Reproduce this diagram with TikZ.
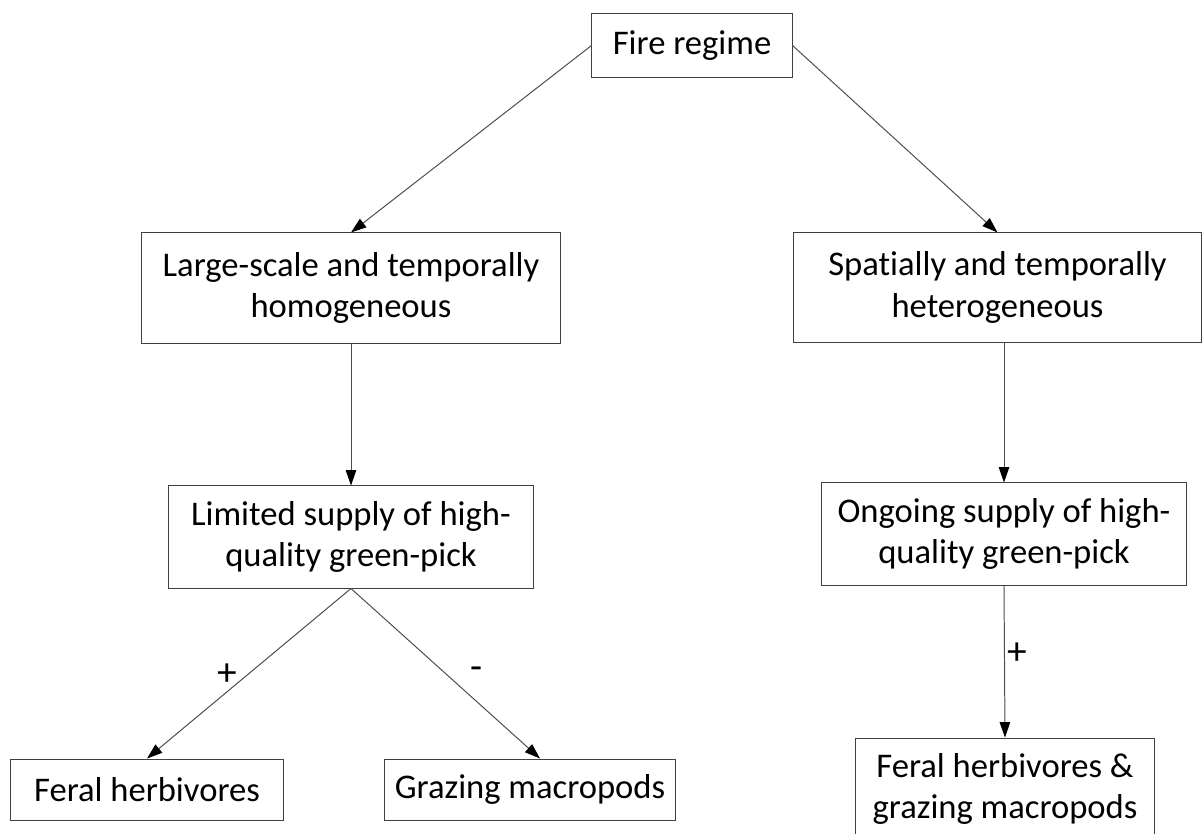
\documentclass[tikz,border=0pt]{standalone}
\usepackage{fontspec}
\setmainfont{Carlito}[Ligatures=CommonOff]
\usetikzlibrary{arrows.meta, positioning}

\begin{document}
\begin{tikzpicture}[
    x=0.025cm, y=-0.025cm,
    >={Triangle[length=11pt, width=7.5pt, color=black]},
    box/.style={draw=black!75, line width=0.7pt, align=center, inner sep=0pt,
        font=\fontsize{24.6}{29.5}\selectfont},
    link/.style={draw=black!70, line width=0.7pt, ->},
    sign/.style={inner sep=0pt, font=\fontsize{28}{30}\selectfont},
]

% --- Page frame ---
\useasboundingbox (0,0) rectangle (1202,834);

% --- Top level ---
\node[box, minimum width=5cm, minimum height=1.575cm] (fire) at (692,45.5) {Fire regime};

% --- Second level ---
\node[box, minimum width=10.45cm, minimum height=2.75cm] (large) at (351,288)
    {Large-scale and temporally\\homogeneous};
\node[box, minimum width=10.175cm, minimum height=2.725cm] (spatial) at (997.5,287.5)
    {Spatially and temporally\\heterogeneous};

% --- Green-pick supply ---
\node[box, minimum width=9.1cm, minimum height=2.55cm] (limited) at (351,537)
    {Limited supply of high-\\quality green-pick};
\node[box, minimum width=9.1cm, minimum height=2.55cm] (ongoing) at (1004,534)
    {Ongoing supply of high-\\quality green-pick};

% --- Herbivores ---
\node[box, minimum width=6.8cm, minimum height=1.525cm] (feral) at (147,789.5) {Feral herbivores};
\node[box, minimum width=7.25cm, minimum height=1.525cm] (grazing) at (530,789.5) {Grazing macropods};
\node[box, minimum width=7.45cm, minimum height=2.55cm] (both) at (1005,789)
    {Feral herbivores \&\\grazing macropods};

% --- Connectors ---
\draw[link] (fire.west) -- (large.north);
\draw[link] (fire.east) -- (spatial.north);
\draw[link] (large.south) -- (limited.north);
\draw[link] (ongoing.north |- spatial.south) -- (ongoing.north);
\draw[link] (limited.south) -- (feral.north);
\draw[link] (limited.south) -- ([xshift=0.25cm]grazing.north);
\draw[link] (ongoing.south) -- (both.north);

% --- Signs ---
\node[sign] (plusferal) at (227,675) {+};
\node[sign] (minusgrazing) at (477,673) {-};
\node[sign] (plusboth) at (1017,654) {+};

\end{tikzpicture}
\end{document}
